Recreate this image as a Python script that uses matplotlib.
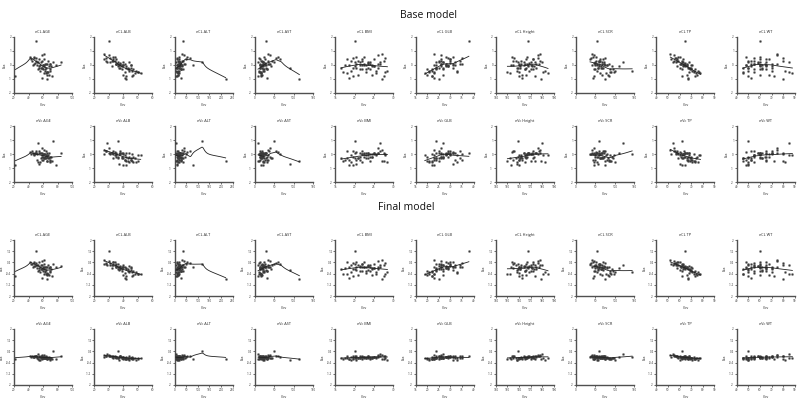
import numpy as np
import matplotlib
matplotlib.use("Agg")
import matplotlib.pyplot as plt

plt.rcParams['font.family'] = ['Open Sans', 'DejaVu Sans']

# covariate values per individual
AGE = [22, 50, 45, 48, 52, 55, 58, 60, 62, 65, 68, 70, 56, 47, 63, 66, 42, 53, 59, 61,
       64, 67, 72, 49, 57, 63, 51, 69, 46, 74, 55, 60, 65, 58, 62, 71, 44, 54, 66, 59,
       63, 57, 68, 52, 64, 70, 48, 61, 67, 56, 85, 62, 58, 65, 53, 60, 69, 50, 64, 78]
ALB = [42, 30, 28, 35, 40, 33, 38, 45, 27, 50, 42, 36, 44, 31, 39, 47, 34, 29, 41, 37,
       52, 33, 46, 38, 43, 35, 28, 49, 40, 36, 32, 44, 41, 30, 48, 39, 35, 37, 42, 34,
       46, 31, 40, 45, 38, 43, 33, 36, 50, 39, 44, 27, 42, 35, 47, 38, 41, 32, 45, 40]
ALT = [12, 38, 15, 20, 25, 10, 8, 18, 30, 12, 22, 45, 14, 9, 26, 16, 55, 6, 28, 11,
       19, 35, 7, 24, 17, 13, 65, 21, 33, 120, 16, 27, 9, 40, 14, 23, 18, 12, 220, 30,
       8, 20, 15, 11, 42, 26, 19, 32, 13, 24, 17, 50, 10, 22, 36, 14, 28, 17, 21, 80]
AST = [15, 28, 18, 22, 20, 12, 14, 25, 35, 10, 16, 40, 20, 11, 24, 18, 60, 9, 30, 13,
       17, 45, 8, 26, 19, 14, 55, 23, 29, 50, 16, 32, 12, 38, 15, 21, 27, 90, 115, 33,
       10, 22, 16, 13, 36, 20, 24, 42, 17, 19, 21, 65, 12, 25, 30, 18, 34, 15, 28, 20]
BMI = [19.5, 20.0, 22.0, 23.5, 24.0, 18.0, 26.0, 21.5, 27.0, 17.0, 25.0, 22.5, 19.0, 28.0, 23.0,
       24.5, 20.5, 26.5, 18.5, 22.0, 25.5, 21.0, 27.5, 23.5, 16.5, 24.0, 19.5, 28.5, 22.5, 20.0,
       25.0, 21.5, 23.0, 26.0, 18.0, 24.5, 22.0, 20.5, 27.0, 19.0, 25.5, 23.5, 21.0, 17.5, 26.5,
       24.0, 22.5, 20.0, 28.0, 23.0, 21.5, 25.0, 19.5, 26.0, 22.0, 24.5, 20.5, 27.5, 23.5, 18.5]
GLB = [22, 38, 25, 28, 27, 30, 24, 32, 23, 21, 29, 26, 33, 35, 24, 20, 31, 27, 23, 28,
       19, 34, 22, 30, 25, 26, 29, 21, 31, 24, 28, 27, 33, 26, 23, 29, 26, 31, 25, 30,
       22, 32, 27, 24, 34, 20, 28, 26, 23, 29, 25, 30, 27, 31, 22, 28, 35, 26, 24, 23]
HEIGHT = [160, 168, 155, 165, 170, 172, 175, 160, 178, 150, 168, 162, 158, 176, 172, 166, 154, 180, 163, 170,
          185, 157, 174, 169, 161, 167, 156, 182, 164, 159, 171, 165, 160, 176, 152, 173, 166, 158, 179, 162,
          169, 174, 163, 155, 177, 170, 167, 161, 181, 168, 164, 172, 159, 175, 165, 171, 160, 178, 166, 153]
SCR = [45, 55, 60, 50, 48, 70, 65, 80, 42, 90, 60, 72, 55, 38, 95, 68, 52, 120, 44, 58,
       78, 62, 85, 47, 66, 53, 75, 100, 40, 58, 110, 50, 87, 45, 63, 92, 36, 57, 76, 59,
       145, 68, 82, 49, 71, 88, 43, 64, 98, 54, 73, 61, 56, 67, 46, 79, 84, 51, 69, 74]
TP = [62, 65, 55, 60, 63, 58, 68, 70, 52, 72, 66, 64, 71, 57, 62, 75, 60, 54, 67, 63,
      78, 59, 73, 65, 69, 61, 56, 76, 66, 62, 58, 70, 68, 55, 74, 65, 63, 60, 67, 62,
      72, 57, 66, 71, 64, 69, 59, 63, 77, 65, 68, 53, 67, 61, 73, 64, 66, 58, 70, 65]
WT = [50, 60, 52, 55, 60, 65, 70, 65, 75, 45, 60, 55, 50, 80, 62, 68, 48, 85, 52, 60,
      88, 50, 72, 58, 45, 64, 55, 82, 62, 50, 70, 60, 55, 75, 45, 65, 60, 50, 80, 55,
      70, 65, 60, 48, 70, 65, 60, 52, 85, 60, 58, 68, 50, 75, 55, 65, 52, 80, 62, 48]

# individual random effects (eta)
ETA_CL_BASE = [-0.80, 1.70, 0.30, 0.10, 0.20, 0.40, -0.20, 0.00, 0.80, -0.50, -0.10, 0.10, -0.40, 0.50, -0.30,
               -0.70, 0.60, 0.20, -0.90, 0.00, -0.60, 0.30, -0.80, 0.15, -0.20, 0.05, 0.50, -0.40, 0.00, 0.20,
               -0.10, -0.30, -0.50, 0.70, -0.60, -0.10, 0.40, -0.20, -1.00, 0.30, -0.40, 0.20, -0.70, 0.00, 0.10,
               -0.30, 0.60, -0.10, -0.50, 0.00, 0.20, 0.40, -0.20, 0.10, -0.30, 0.00, 0.10, 0.30, -0.20, 0.00]
ETA_VC_BASE = [-0.75, 0.10, 0.20, -0.10, 0.00, 0.20, 0.10, -0.40, 0.30, -0.50, 0.05, -0.20, -0.60, 0.00, -0.30,
               -0.20, 0.15, 0.80, -0.40, 0.00, -0.10, -0.30, -0.50, 0.10, -0.30, -0.20, 0.20, -0.60, 0.05, 0.90,
               0.10, -0.20, -0.10, 0.40, -0.30, -0.20, 0.00, -0.70, -0.50, -0.10, 0.00, 0.10, -0.30, -0.40, 0.20,
               -0.50, 0.00, -0.30, -0.10, 0.10, 0.10, 0.00, -0.20, 0.05, -0.60, 0.00, -0.40, 0.10, -0.30, -0.80]
ETA_CL_FINAL = [-0.60, 1.20, 0.30, 0.15, 0.20, 0.40, -0.10, 0.05, 0.55, -0.40, 0.00, 0.10, -0.30, 0.35, -0.20,
                -0.50, 0.45, 0.20, -0.70, 0.05, -0.45, 0.25, -0.60, 0.15, -0.10, 0.05, 0.35, -0.30, 0.05, 0.30,
                0.00, -0.20, -0.35, 0.50, -0.45, -0.05, 0.30, -0.15, -0.80, 0.25, -0.30, 0.20, -0.50, 0.00, 0.10,
                -0.20, 0.45, -0.05, -0.40, 0.05, 0.15, 0.30, -0.10, 0.10, -0.20, 0.00, 0.10, 0.25, -0.15, 0.05]
ETA_VC_FINAL = [-0.12, 0.06, 0.10, 0.02, 0.00, 0.07, 0.04, -0.10, 0.14, -0.15, 0.00, -0.06, -0.18, 0.04, -0.08,
                -0.06, 0.08, 0.25, -0.12, 0.01, -0.04, -0.09, -0.15, 0.04, -0.06, -0.05, 0.07, -0.18, 0.02, 0.40,
                0.03, -0.05, -0.04, 0.14, -0.08, -0.06, 0.02, -0.22, -0.12, -0.02, 0.00, 0.04, -0.08, -0.10, 0.07,
                -0.12, 0.02, -0.08, -0.04, 0.03, 0.06, 0.01, -0.05, 0.02, -0.17, 0.00, -0.10, 0.04, -0.06, -0.12]

COV_NAMES = ["AGE", "ALB", "ALT", "AST", "BMI", "GLB", "Height", "SCR", "TP", "WT"]
COV_DATA = [AGE, ALB, ALT, AST, BMI, GLB, HEIGHT, SCR, TP, WT]
COV_TICKS = [[20, 40, 60, 80, 100], [20, 30, 40, 50, 60], [0, 50, 100, 150, 200, 250],
             [0, 50, 100, 150], [15, 20, 25, 30], [15, 20, 25, 30, 35, 40],
             [140, 150, 160, 170, 180, 190], [0, 50, 100, 150], [40, 50, 60, 70, 80, 90],
             [40, 50, 60, 70, 80, 90]]
ROW_PREFIX = ["eCL", "eVc", "eCL", "eVc"]
ROW_ETA = [ETA_CL_BASE, ETA_VC_BASE, ETA_CL_FINAL, ETA_VC_FINAL]
BASE_YTICKS = [-2, -1, 0, 1, 2]
FINAL_YTICKS = [-2, -1.2, -0.4, 0.4, 1.2, 2]
SECTION_TITLES = ["Base model", "Final model"]


def lowess(x, y, frac=0.8):
    x = np.asarray(x, float); y = np.asarray(y, float)
    order = np.argsort(x)
    xs, ys = x[order], y[order]
    n = len(xs)
    k = max(3, int(np.ceil(frac * n)))
    grid = np.linspace(xs.min(), xs.max(), 60)
    out = []
    for g in grid:
        d = np.abs(xs - g)
        h = np.sort(d)[k - 1] + 1e-9
        w = np.clip(1 - (d / h) ** 3, 0, None) ** 3
        W = w.sum()
        xm = (w * xs).sum() / W
        ym = (w * ys).sum() / W
        sxx = (w * (xs - xm) ** 2).sum()
        b = (w * (xs - xm) * (ys - ym)).sum() / sxx if sxx > 0 else 0
        out.append(ym + b * (g - xm))
    return grid, np.array(out)


fig = plt.figure(figsize=(8, 4), dpi=100)
W, H = 800, 400
row_top = [37, 126, 240, 329]
ax_h = 56
ax_w = 58
for r in range(4):
    for c in range(10):
        left = 14 + 80.3 * c
        ax = fig.add_axes([left / W, 1 - (row_top[r] + ax_h) / H, ax_w / W, ax_h / H])
        x = COV_DATA[c]
        y = ROW_ETA[r]
        ax.plot(x, y, 's', ms=1.1, color='#3a3a3a', mec='#3a3a3a', mew=0.3, zorder=3)
        gx, gy = lowess(x, y)
        ax.plot(gx, gy, '-', color='#222222', lw=0.6, zorder=4)
        ticks = COV_TICKS[c]
        ax.set_xlim(ticks[0], ticks[-1])
        ax.set_xticks(ticks)
        yt = BASE_YTICKS if r < 2 else FINAL_YTICKS
        ax.set_ylim(-2, 2)
        ax.set_yticks(yt)
        ax.set_yticklabels([("%g" % v) for v in yt])
        ax.tick_params(labelsize=2.2, length=1.2, width=0.5, pad=0.8, colors='#333333')
        for s in ['top', 'right']:
            ax.spines[s].set_visible(False)
        for s in ['left', 'bottom']:
            ax.spines[s].set_linewidth(1.0)
            ax.spines[s].set_color('#505050')
        ax.set_title(f"{ROW_PREFIX[r]} {COV_NAMES[c]}", fontsize=2.8, pad=3, color='#222222')
        ax.set_xlabel("Cov", fontsize=2.6, labelpad=2, color='#222222')
        ax.set_ylabel("Eta", fontsize=2.6, labelpad=1.5, color='#222222')

fig.text(428 / W, 1 - 15 / H, SECTION_TITLES[0], ha='center', va='center', fontsize=7.5, color='#111111')
fig.text(406 / W, 1 - 208 / H, SECTION_TITLES[1], ha='center', va='center', fontsize=7.5, color='#111111')

fig.savefig("out.png", dpi=100, facecolor='white')
